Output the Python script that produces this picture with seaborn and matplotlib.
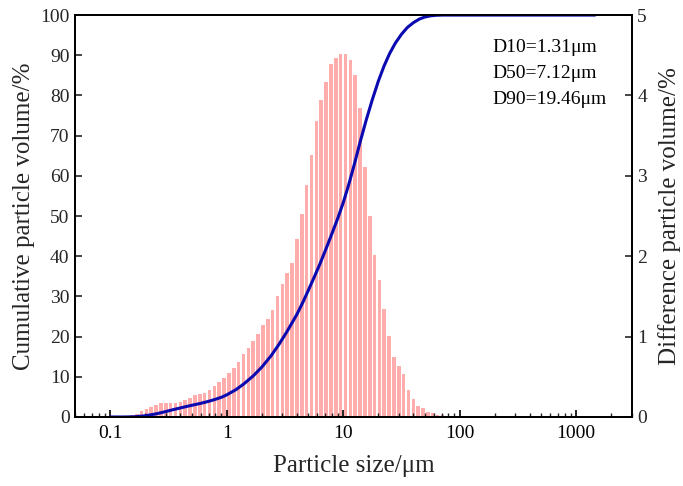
import numpy as np
import matplotlib
matplotlib.use("Agg")
import matplotlib.pyplot as plt
import seaborn as sns
import pandas as pd
from matplotlib.ticker import FixedLocator, LogLocator, FuncFormatter, NullFormatter

# ---- data ----
# differential volume (%) per size class, 24 classes per decade
bin_start_log = -0.814
bins_per_decade = 24
diff_volume = [0.02, 0.04, 0.07, 0.10, 0.13, 0.15, 0.17, 0.18, 0.18, 0.18,
               0.19, 0.21, 0.24, 0.27, 0.28, 0.30, 0.34, 0.39, 0.43, 0.49,
               0.55, 0.61, 0.69, 0.78, 0.86, 0.94, 1.03, 1.14, 1.22, 1.33,
               1.51, 1.66, 1.79, 1.91, 2.22, 2.52, 2.88, 3.26, 3.68, 3.94,
               4.17, 4.39, 4.46, 4.52, 4.52, 4.44, 4.26, 3.85, 3.11, 2.50,
               2.01, 1.71, 1.34, 1.01, 0.75, 0.63, 0.54, 0.33, 0.22, 0.14,
               0.11, 0.06, 0.05, 0.03, 0.02, 0.015]

cum_size = [0.1, 0.13, 0.16, 0.2, 0.25, 0.3, 0.35, 0.4, 0.45, 0.5, 0.6, 0.7,
            0.8, 0.9, 1.0, 1.2, 1.4, 1.7, 2.0, 2.4, 2.8, 3.3, 4.0, 4.5, 5.0,
            5.6, 6.3, 7.0, 7.9, 9.0, 10.0, 11.2, 12.5, 14.0, 15.8, 17.8, 20,
            22.4, 25, 28, 31.6, 35.5, 40, 45, 50, 56, 63, 71, 1450]
cum_volume = [0, 0, 0.05, 0.3, 0.8, 1.35, 1.85, 2.25, 2.6, 2.9, 3.4, 3.9,
              4.4, 4.9, 5.5, 6.8, 8.2, 10.3, 12.4, 15.2, 18, 21.3, 25.5, 28.5,
              31.4, 34.6, 38, 41.3, 45.2, 49.5, 53.3, 58, 63, 68.5, 74, 79,
              83.5, 87.3, 90.4, 93, 95.2, 96.9, 98.1, 99, 99.5, 99.8, 99.95,
              100, 100]

x_ticks = [0.1, 1, 10, 100, 1000]
left_ticks = list(range(0, 101, 10))
right_ticks = [0, 1, 2, 3, 4, 5]
annotations = ["D10=1.31\u03bcm", "D50=7.12\u03bcm", "D90=19.46\u03bcm"]

# ---- style ----
sns.set_theme(style="white")
plt.rcParams['font.family'] = ['Liberation Serif', 'DejaVu Serif']

fig = plt.figure(figsize=(6.83, 4.86), dpi=100)
ax = fig.add_axes([0.110, 0.142, 0.815, 0.827])
ax2 = ax.twinx()

# bars on right axis
k = np.arange(len(diff_volume))
centers = 10 ** (bin_start_log + k / bins_per_decade)
frac = 0.74
half = frac / bins_per_decade / 2
lefts = centers * 10 ** (-half)
widths = centers * (10 ** half - 10 ** (-half))
ax2.bar(lefts, diff_volume, width=widths, align='edge', color='#FFACAC',
        edgecolor='none')

# cumulative line on left axis
df = pd.DataFrame({"size": cum_size, "cum": cum_volume})
sns.lineplot(data=df, x="size", y="cum", ax=ax, color='#0A0AB0', linewidth=2.2)

ax.set_zorder(ax2.get_zorder() + 1)
ax.patch.set_visible(False)

for a in (ax, ax2):
    a.set_xscale('log')
    a.set_xlim(0.05, 3000)

ax.set_ylim(0, 100)
ax2.set_ylim(0, 5)
ax.xaxis.set_major_locator(FixedLocator(x_ticks))
ax.xaxis.set_major_formatter(FuncFormatter(lambda v, p: f"{v:g}"))
ax.xaxis.set_minor_locator(LogLocator(base=10, subs=np.arange(2, 10), numticks=20))
ax.xaxis.set_minor_formatter(NullFormatter())
ax.set_yticks(left_ticks)
ax2.set_yticks(right_ticks)

ax.tick_params(axis='x', which='major', direction='in', length=5, width=1.2,
               labelsize=14, colors='black', bottom=True, top=False, pad=6)
ax.tick_params(axis='x', which='minor', direction='in', length=3, width=1.0,
               bottom=True, top=False)
ax.tick_params(axis='y', which='major', direction='in', length=5, width=1.2,
               labelsize=14, left=True, right=False, pad=4)
ax2.tick_params(axis='y', which='major', direction='in', length=5, width=1.2,
                labelsize=14, right=True, left=False, pad=4)
ax2.tick_params(axis='x', which='both', bottom=False, top=False, labelbottom=False)

for a in (ax, ax2):
    for s in a.spines.values():
        s.set_color('black')
        s.set_linewidth(1.3)
        s.set_visible(True)

ax.set_xlabel("Particle size/\u03bcm", fontsize=18, labelpad=9)
ax.set_ylabel("Cumulative particle volume/%", fontsize=18, labelpad=4)
ax2.set_ylabel("Difference particle volume/%", fontsize=18, labelpad=8)

for i, t in enumerate(annotations):
    ax.text(0.749, 0.920 - i * 0.065, t, transform=ax.transAxes,
            fontsize=14, va='center', ha='left', color='black')

ax.grid(False)
ax2.grid(False)

fig.savefig("out.png", dpi=100)
